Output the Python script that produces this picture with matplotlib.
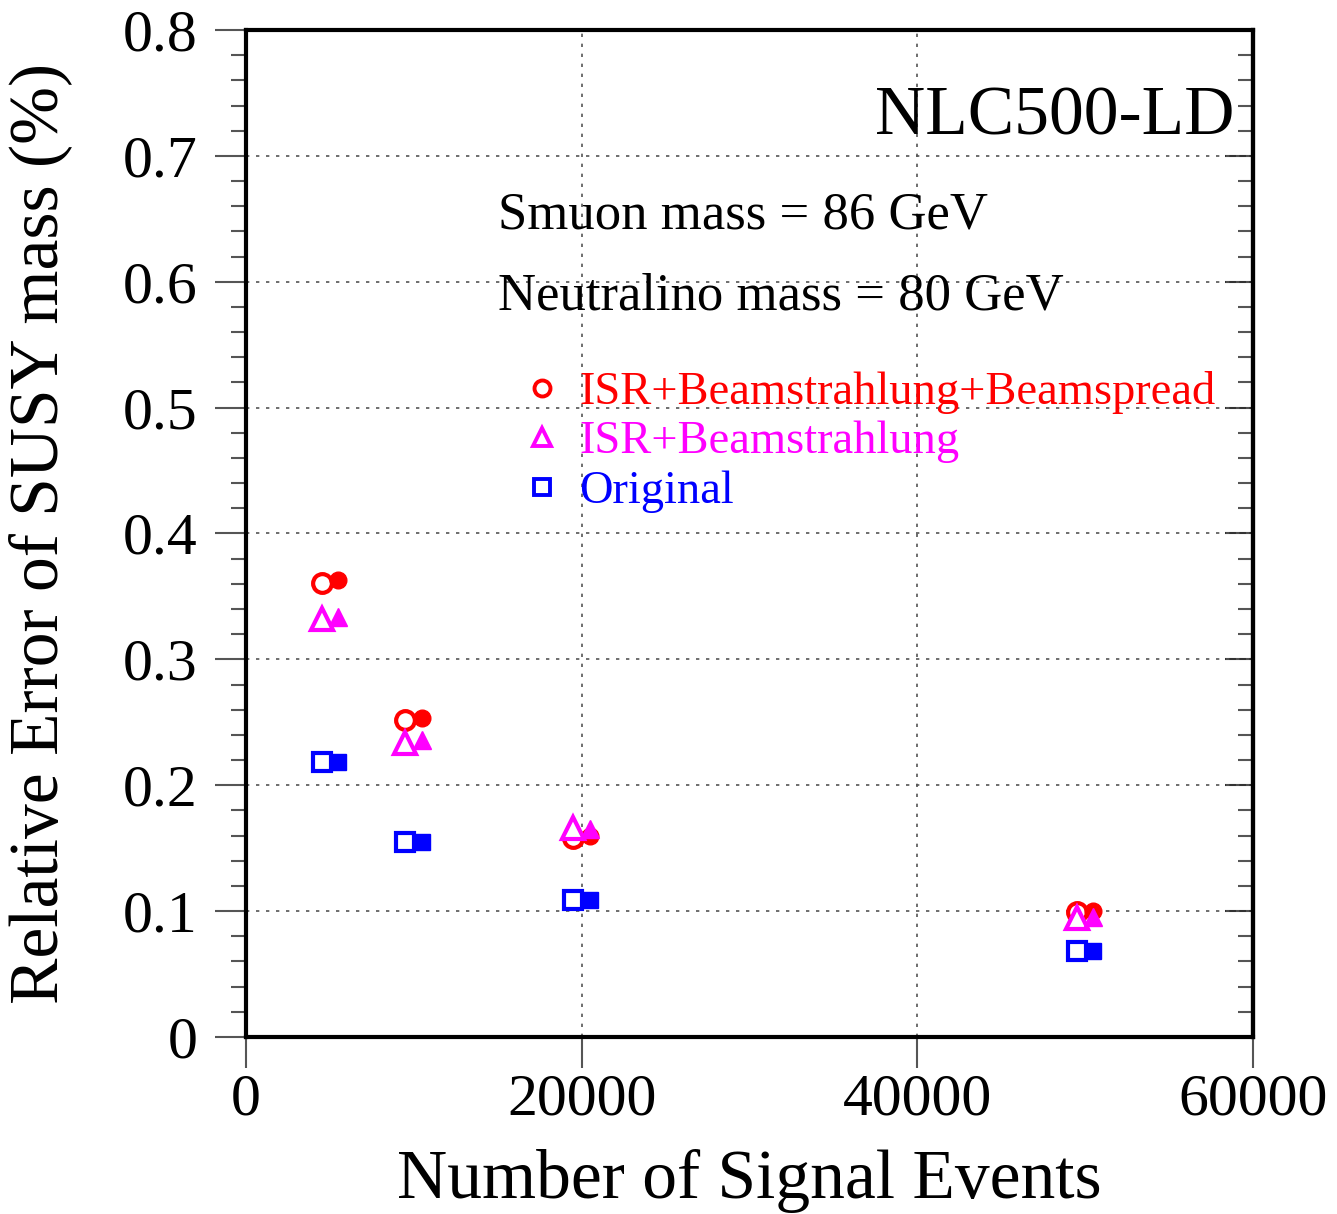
import matplotlib
matplotlib.use("Agg")
import matplotlib.pyplot as plt
from matplotlib.lines import Line2D
from matplotlib.ticker import MultipleLocator

plt.rcParams['font.family'] = ['Liberation Serif', 'DejaVu Serif']
plt.rcParams['mathtext.fontset'] = 'stix'

# Data
x_open = [4500, 9500, 19500, 49500]
x_filled = [5500, 10500, 20500, 50500]
full_open = [0.3607, 0.2518, 0.158, 0.0993]
full_filled = [0.363, 0.2534, 0.1597, 0.100]
isrbs_open = [0.332, 0.2336, 0.166, 0.0945]
isrbs_filled = [0.334, 0.236, 0.165, 0.0953]
orig_open = [0.2185, 0.155, 0.109, 0.0683]
orig_filled = [0.2185, 0.155, 0.109, 0.0683]

labels = ["ISR+Beamstrahlung+Beamspread", "ISR+Beamstrahlung", "Original"]
colors = ["#ff0000", "#ff00ff", "#0000ff"]
markers = ["o", "^", "s"]

fig = plt.figure(figsize=(13.37, 12.14), dpi=100)
ax = fig.add_axes([0.184, 0.1458, 0.753, 0.8295])

series = [(full_open, full_filled), (isrbs_open, isrbs_filled), (orig_open, orig_filled)]
for (yo, yf), c, m in zip(series, colors, markers):
    ms_o = 16 if m == "^" else 13.5
    ms_f = 13 if m == "^" else 12
    ax.plot(x_open, yo, linestyle='none', marker=m, markersize=ms_o,
            markerfacecolor='white', markeredgecolor=c, markeredgewidth=3, zorder=3)
    ax.plot(x_filled, yf, linestyle='none', marker=m, markersize=ms_f,
            markerfacecolor=c, markeredgecolor=c, markeredgewidth=1, zorder=3)

ax.set_xlim(0, 60000)
ax.set_ylim(0, 0.8)
ax.set_xticks([0, 20000, 40000, 60000])
ax.set_xticklabels(["0", "20000", "40000", "60000"])
ax.set_yticks([0, 0.1, 0.2, 0.3, 0.4, 0.5, 0.6, 0.7, 0.8])
ax.set_yticklabels(["0", "0.1", "0.2", "0.3", "0.4", "0.5", "0.6", "0.7", "0.8"])
ax.yaxis.set_minor_locator(MultipleLocator(0.02))

ax.grid(True, which='major', linestyle=(0, (2, 4)), color='#555555', linewidth=1.2)
ax.set_axisbelow(True)

for s in ax.spines.values():
    s.set_linewidth(3)

ax.tick_params(axis='both', which='major', direction='out', length=22, width=1.5,
               color='#555555', labelsize=43)
ax.tick_params(axis='x', which='major', pad=4)
ax.tick_params(axis='y', which='major', pad=13)
ax.tick_params(axis='y', which='minor', direction='out', length=11, width=1.5, color='#555555')

# inward ticks on right side
ax2 = ax.secondary_yaxis('right')
ax2.set_yticks([0, 0.1, 0.2, 0.3, 0.4, 0.5, 0.6, 0.7, 0.8])
ax2.yaxis.set_minor_locator(MultipleLocator(0.02))
ax2.tick_params(axis='y', which='major', direction='in', length=20, width=1.5, color='#333333', labelright=False)
ax2.tick_params(axis='y', which='minor', direction='in', length=11, width=1.5, color='#555555')
ax2.spines['right'].set_linewidth(3)
ax.tick_params(axis='y', which='both', right=False)

ax.set_xlabel("Number of Signal Events", fontsize=50, labelpad=16)
ax.set_ylabel("Relative Error of SUSY mass (%)", fontsize=50, labelpad=36)

ax.text(0.982, 0.913, "NLC500-LD", transform=ax.transAxes, ha='right', va='center', fontsize=50)
ax.text(15000, 0.653, "Smuon mass = 86 GeV", ha='left', va='center', fontsize=38)
ax.text(15000, 0.588, "Neutralino mass = 80 GeV", ha='left', va='center', fontsize=38)

handles = [Line2D([], [], linestyle='none', marker=m, markersize=11.5 if m != '^' else 12.5,
                  markerfacecolor='white', markeredgecolor=c, markeredgewidth=2.8)
           for m, c in zip(markers, colors)]
leg = ax.legend(handles, labels, loc='upper left', bbox_to_anchor=(0.262, 0.68),
                frameon=False, fontsize=33.5, handlelength=0.6, handletextpad=0.5,
                labelspacing=0.15, labelcolor=colors, borderaxespad=0)

fig.savefig("out.png", dpi=100)
